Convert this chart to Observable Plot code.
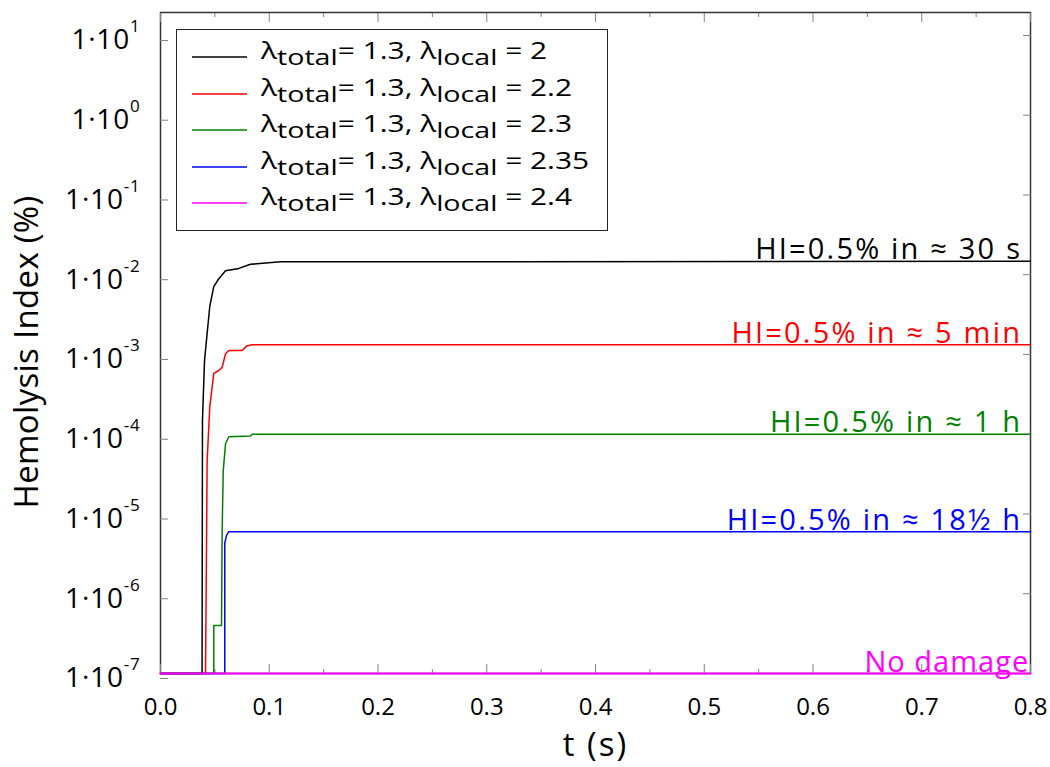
<!DOCTYPE html>
<html>
<head>
<meta charset="utf-8">
<script src="https://cdn.jsdelivr.net/npm/d3@7"></script>
<script src="https://cdn.jsdelivr.net/npm/@observablehq/plot@0.6"></script>
<style>
  body { margin: 0; background: #fff; font-family: "Open Sans", sans-serif; }
  #chart { position: relative; width: 1050px; height: 767px; }
  .legend {
    position: absolute; left: 176px; top: 29px; width: 432px; height: 202px;
    box-sizing: border-box; border: 1.5px solid #222; background: #fff;
  }
  .row { position: absolute; left: 0; height: 0; }
  .sw { position: absolute; left: 15px; top: -3px; display: block; }
  .lab {
    position: absolute; left: 84px; top: -22px; font-size: 23px; line-height: 30px;
    white-space: pre; color: #000; transform: scaleX(1.3); transform-origin: 0 50%;
  }
  .lab sub { font-size: 22px; vertical-align: -6px; line-height: 0; }
</style>
</head>
<body>
<div id="chart"></div>
<script>
// λ_local of each run (λ_total fixed at 1.3)
const lambdaTotal = "1.3";
const lambdaLocal = ["2", "2.2", "2.3", "2.35", "2.4"];
const colors = ["#000000", "#ff0000", "#008000", "#0000ff", "#ff00ff"];

// Hemolysis index (%) versus time (s) for each run
const t1  = [0, 0.0382, 0.0386, 0.0405, 0.0453, 0.0490, 0.0536, 0.0598, 0.0720, 0.0828, 0.1103, 0.8];
const hi1 = [1e-7, 1e-7, 1.5e-4, 8.5e-4, 4.0e-3, 7.1e-3, 8.9e-3, 1.12e-2, 1.2e-2, 1.35e-2, 1.45e-2, 1.48e-2];

const t2  = [0, 0.0414, 0.0429, 0.0453, 0.0490, 0.0536, 0.0567, 0.0598, 0.0628, 0.0751, 0.0797, 0.0843, 0.8];
const hi2 = [1e-7, 1e-7, 4.7e-5, 2.2e-4, 5.8e-4, 6.3e-4, 6.9e-4, 1.02e-3, 1.12e-3, 1.12e-3, 1.29e-3, 1.32e-3, 1.32e-3];

const t3  = [0, 0.0490, 0.0490, 0.0561, 0.0567, 0.0577, 0.0598, 0.0628, 0.0828, 0.0843, 0.8];
const hi3 = [1e-7, 1e-7, 4.0e-7, 4.0e-7, 6.3e-6, 3.5e-5, 7.6e-5, 9.3e-5, 9.5e-5, 1.0e-4, 1.0e-4];

const t4  = [0, 0.0591, 0.0591, 0.0607, 0.0628, 0.8];
const hi4 = [1e-7, 1e-7, 4.3e-6, 5.4e-6, 6.0e-6, 6.0e-6];

const t5  = [0, 0.8];
const hi5 = [1e-7, 1e-7];

const times = [t1, t2, t3, t4, t5];
const values = [hi1, hi2, hi3, hi4, hi5];

// Time needed to reach HI = 0.5 % at each plateau
const notes = ["HI=0.5% in \u2248 30 s", "HI=0.5% in \u2248 5 min", "HI=0.5% in \u2248 1 h", "HI=0.5% in \u2248 18\u00bd h", "No damage"];

const xTicks = [0, 0.1, 0.2, 0.3, 0.4, 0.5, 0.6, 0.7, 0.8];
const xMinor = [0.05, 0.15, 0.25, 0.35, 0.45, 0.55, 0.65, 0.75];
const yTicks = [1e-7, 1e-6, 1e-5, 1e-4, 1e-3, 1e-2, 1e-1, 1e0, 1e1];

const xTitle = "t (s)";
const yTitle = "Hemolysis Index (%)";

const runs = times.map((ts, i) => ts.map((t, j) => ({t, hi: values[i][j], run: lambdaLocal[i]})));
const plateaus = values.map((v, i) => ({hi: v[v.length - 1], run: lambdaLocal[i], note: notes[i]}));

const tickColor = "#808080";
const noTick = () => "";

const chart = Plot.plot({
  width: 1050,
  height: 767,
  marginLeft: 160,
  marginRight: 20,
  marginTop: 12,
  marginBottom: 94,
  style: {fontFamily: "'Open Sans', sans-serif", background: "#fff", color: "#000"},
  x: {domain: [0, 0.8], label: null},
  y: {type: "log", domain: [1e-7, 19.4], label: null},
  color: {domain: lambdaLocal, range: colors},
  marks: [
    Plot.frame({stroke: "#333", strokeWidth: 1.5}),
    // ticks pointing into the frame on all four sides
    Plot.axisX(xTicks, {anchor: "bottom", tickSize: -9, tickPadding: 33, stroke: tickColor, fill: "#000", fontSize: 24, tickFormat: d => d.toFixed(1), label: null}),
    Plot.axisX(xMinor, {anchor: "bottom", tickSize: -4, stroke: tickColor, tickFormat: noTick, label: null}),
    Plot.axisX(xTicks, {anchor: "top", tickSize: -9, stroke: tickColor, tickFormat: noTick, label: null}),
    Plot.axisX(xMinor, {anchor: "top", tickSize: -4, stroke: tickColor, tickFormat: noTick, label: null}),
    Plot.axisY(yTicks, {anchor: "left", tickSize: -8, tickPadding: 28, dy: 5, stroke: tickColor, fill: "#000", fontSize: 28,
      tickFormat: d => `1\u00b710^${Math.round(Math.log10(d))}`, label: null}),
    Plot.axisY(yTicks, {anchor: "right", tickSize: -8, stroke: tickColor, tickFormat: noTick, label: null}),
    // one line per run, the undamaged run last so it sits on top along the floor
    ...runs.map((r, i) => Plot.line(r, {x: "t", y: "hi", stroke: "run", strokeWidth: i === 4 ? 2 : 1.5})),
    Plot.text(plateaus.slice(0, 4), {x: () => 0.7905, y: "hi", text: "note", fill: "run", textAnchor: "end", lineAnchor: "bottom", dx: 2, dy: -2, fontSize: 29}),
    Plot.text(plateaus.slice(4), {x: () => 0.7905, y: "hi", text: "note", fill: "run", textAnchor: "end", lineAnchor: "bottom", dx: 9, dy: -2, fontSize: 29}),
    Plot.text([xTitle], {frameAnchor: "bottom", textAnchor: "middle", dy: 82, fontSize: 33, fill: "#000"}),
    Plot.text([yTitle], {frameAnchor: "left", textAnchor: "middle", lineAnchor: "middle", rotate: -90, dx: -133, dy: 9, fontSize: 33, fill: "#000"})
  ]
});

// exponent of the y tick labels as a raised tspan
chart.querySelectorAll("text").forEach(el => {
  const s = el.textContent;
  if (!s.includes("^")) return;
  const [base, exp] = s.split("^");
  el.textContent = base;
  el.setAttribute("letter-spacing", "0.8");
  const sup = document.createElementNS("http://www.w3.org/2000/svg", "tspan");
  sup.textContent = exp;
  sup.setAttribute("font-size", "17");
  sup.setAttribute("dy", "-17");
  el.appendChild(sup);
});

// letter spacing of the wider-set texts
const spacing = new Map([...notes.slice(0, 4).map(n => [n, 2.2]), [notes[4], 1], [xTitle, 2], [yTitle, 0.3]]);
chart.querySelectorAll("text").forEach(el => {
  const v = spacing.get(el.textContent);
  if (v != null) el.setAttribute("letter-spacing", v);
});

const host = document.getElementById("chart");
host.appendChild(chart);

// legend box inside the frame
const legend = document.createElement("div");
legend.className = "legend";
lambdaLocal.forEach((v, i) => {
  const row = document.createElement("div");
  row.className = "row";
  row.style.top = `${27 + i * 36.5}px`;
  row.innerHTML = `<svg class="sw" width="55" height="6"><line x1="0" x2="55" y1="3" y2="3" stroke="${colors[i]}" stroke-width="1.5"/></svg>` +
    `<span class="lab">\u03bb<sub>total</sub>= ${lambdaTotal}, \u03bb<sub>local</sub> = ${v}</span>`;
  legend.appendChild(row);
});
host.appendChild(legend);
</script>
</body>
</html>
